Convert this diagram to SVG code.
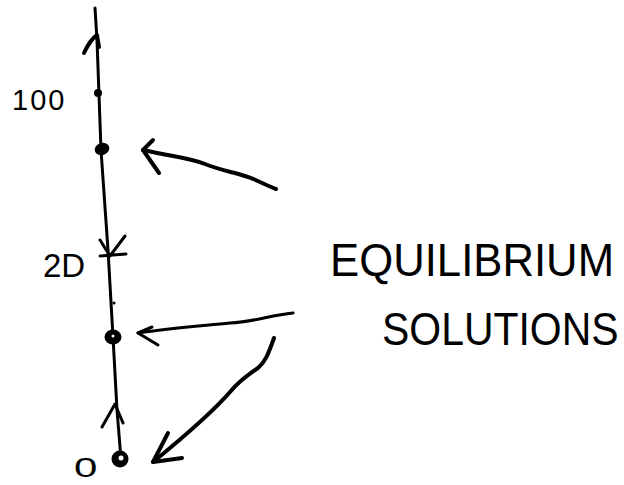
<svg xmlns="http://www.w3.org/2000/svg" width="624" height="485" viewBox="0 0 624 485">
<style>
.ln{fill:none;stroke:#000;stroke-width:3;stroke-linecap:round;stroke-linejoin:round}
.ar{fill:none;stroke:#000;stroke-width:4;stroke-linecap:round;stroke-linejoin:round}
.dot{fill:#000}
.lbl{font-family:"Liberation Sans",Arial,sans-serif;fill:#000}
</style>
<rect width="624" height="485" fill="#fff"/>
<g id="phase-line">
<path class="ln" d="M95,8 L97,40 L101,150 L108,250 L113,337 L117,410 L121,459"/>
<path class="ar" d="M84,53 Q90,40 97,35 L99,47"/>
<path class="ln" d="M100,240 L110,256 L125,236 M100,256 L126,254"/>
<path class="ln" d="M102,427 L115,404 L123,423"/>
<circle class="dot" cx="114" cy="303" r="1.5"/>
</g>
<g id="node-100">
<circle class="dot" cx="98" cy="93" r="4"/>
<text class="lbl" x="12" y="110" font-size="29" letter-spacing="2">100</text>
</g>
<g id="node-eq-top">
<ellipse class="dot" cx="102" cy="149" rx="7.5" ry="6" transform="rotate(-20 102 149)"/>
</g>
<g id="node-20">
<text class="lbl" x="43" y="277" font-size="33">2D</text>
</g>
<g id="node-eq-mid">
<ellipse class="dot" cx="113" cy="337" rx="8.5" ry="7.5"/>
<circle cx="113" cy="336" r="1.5" fill="#fff"/>
</g>
<g id="node-eq-0">
<circle class="dot" cx="120" cy="459" r="8.5"/>
<circle cx="121" cy="458" r="2.5" fill="#fff"/>
<text class="lbl" font-size="28" transform="translate(74,477) scale(1.5,1)">0</text>
</g>
<g id="label-equilibrium">
<text class="lbl" font-size="46" transform="translate(330,276) scale(0.95,1)">EQUILIBRIUM</text>
<text class="lbl" font-size="46" transform="translate(382,345) scale(0.89,1)">SOLUTIONS</text>
</g>
<g id="connectors">
<path class="ar" d="M276,189 C265,185 258,180 245,176 C232,172 220,170 205,164 C190,158 175,157 143,150"/>
<path class="ar" d="M153,140 L143,150 L159,173"/>
<path class="ln" d="M293,313 C270,315 255,322 230,323 C200,326 170,328 138,333"/>
<path class="ln" d="M152,327 L138,333 L158,345"/>
<path class="ar" d="M274,338 C268,355 265,362 258,368 C248,375 240,380 230,392 C210,415 180,440 153,462"/>
<path class="ar" d="M168,433 L153,462 L182,458"/>
</g>
</svg>
